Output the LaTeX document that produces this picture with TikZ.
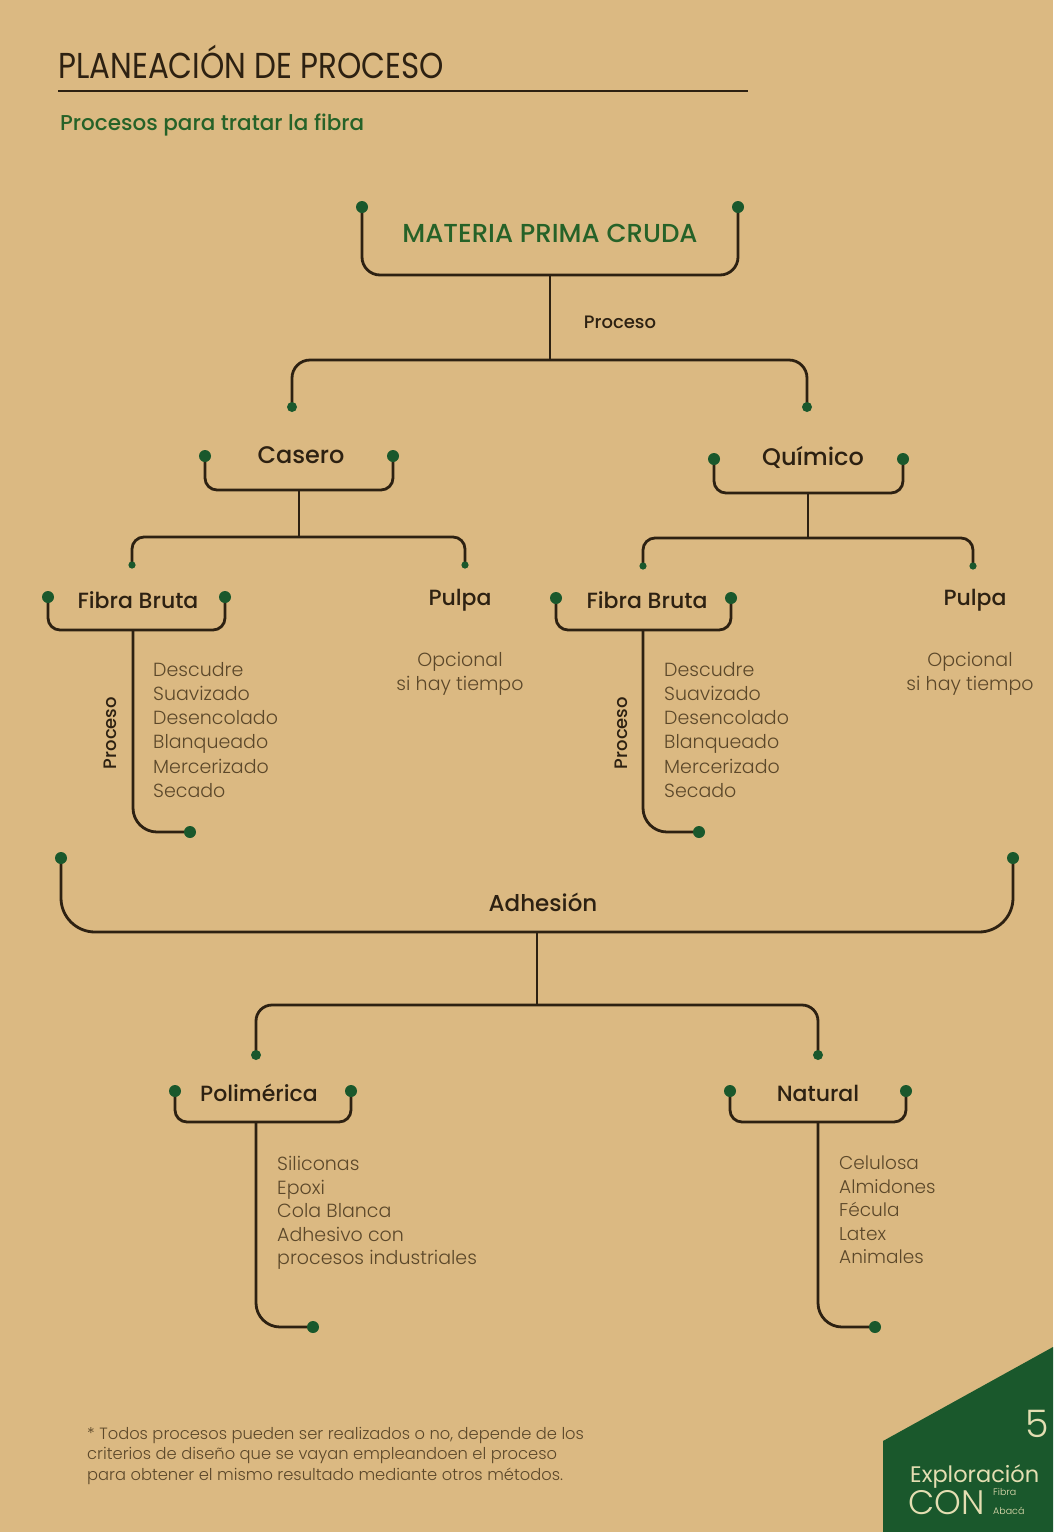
\documentclass[tikz,border=0pt]{standalone}
\usepackage{fontspec}
\setmainfont{Poppins}
\newfontfamily\titlefont[FakeStretch=0.86]{Poppins}
\newfontfamily\lightfont{Poppins Light}
\newfontfamily\medfont{Poppins Medium}
\usetikzlibrary{positioning}

\definecolor{kraft}{RGB}{219,185,130}
\definecolor{ink}{RGB}{45,33,18}
\definecolor{softink}{RGB}{92,72,42}
\definecolor{leaf}{RGB}{26,88,44}
\definecolor{leaftext}{RGB}{38,98,40}
\definecolor{cream}{RGB}{228,222,178}

\begin{document}
\begin{tikzpicture}[x=1pt, y=-1pt,
    line/.style={draw=ink, line width=2.8pt, rounded corners=14pt},
    head/.style={text=ink, inner sep=0pt, font=\medfont\fontsize{22}{26}\selectfont},
    item/.style={text=softink, inner sep=0pt, anchor=north west, align=left, font=\lightfont\fontsize{19}{24.2}\selectfont},
    note/.style={text=softink, inner sep=0pt, anchor=north, align=center, font=\lightfont\fontsize{19}{24}\selectfont},
    side/.style={text=ink, inner sep=0pt, rotate=90, font=\medfont\fontsize{18}{20}\selectfont}
]
% paper
\fill[kraft] (0,0) rectangle (1053,1532);
\useasboundingbox (0,0) rectangle (1053,1532);

% heading
\node[anchor=base west, inner sep=0pt, text=ink, font=\titlefont\fontsize{36}{40}\selectfont] (title) at (58,78) {PLANEACIÓN DE PROCESO};
\draw[ink, line width=1.6pt] (58,91) -- (748,91);
\node[anchor=base west, inner sep=0pt, text=leaftext, font=\medfont\fontsize{21.5}{24}\selectfont] (subtitle) at (60,130) {Procesos para tratar la fibra};

% materia prima
\node[inner sep=0pt, text=leaftext, font=\medfont\fontsize{26}{30}\selectfont] (materia) at (550,233) {MATERIA PRIMA CRUDA};
\coordinate (mpL) at (362,207);
\coordinate (mpR) at (738,207);
\coordinate (mpJ) at (550,275);
\coordinate (prJ) at (550,360);
\coordinate (caT) at (292,407);
\coordinate (quT) at (807,407);
\draw[line, rounded corners=18pt] (mpL) |- (mpJ) -| (mpR);
\draw[line] (mpJ) -- (prJ);
\draw[line, rounded corners=18pt] (caT) |- (prJ) -| (quT);
\node[head, font=\medfont\fontsize{18}{20}\selectfont] (proc) at (620,322) {Proceso};

% casero
\node[head, font=\medfont\fontsize{24}{28}\selectfont] (casero) at (301,455) {Casero};
\coordinate (caL) at (205,456);
\coordinate (caR) at (393,456);
\coordinate (caJ) at (299,490);
\coordinate (caK) at (299,537);
\coordinate (fbT) at (132,565);
\coordinate (puT) at (465,565);
\draw[line, rounded corners=12pt] (caL) |- (caJ) -| (caR);
\draw[line] (caJ) -- (caK);
\draw[line, rounded corners=12pt] (fbT) |- (caK) -| (puT);

% quimico
\node[head, font=\medfont\fontsize{24}{28}\selectfont] (quimico) at (813,457) {Químico};
\coordinate (quL) at (714,459);
\coordinate (quR) at (903,459);
\coordinate (quJ) at (808,493);
\coordinate (quK) at (808,538);
\coordinate (fbbT) at (643,566);
\coordinate (pubT) at (973,566);
\draw[line, rounded corners=12pt] (quL) |- (quJ) -| (quR);
\draw[line] (quJ) -- (quK);
\draw[line, rounded corners=12pt] (fbbT) |- (quK) -| (pubT);

% fibra bruta (casero)
\node[head] (fibra) at (138,600) {Fibra Bruta};
\coordinate (fbL) at (48,597);
\coordinate (fbR) at (225,597);
\coordinate (fbJ) at (133,630);
\coordinate (fbE) at (190,832);
\draw[line, rounded corners=12pt] (fbL) |- (fbJ) -| (fbR);
\draw[line, rounded corners=24pt] (fbJ) |- (fbE);
\node[side] (fbside) at (110,733) {Proceso};
\node[item] (fblist) at (153,662) {Descudre\\Suavizado\\Desencolado\\Blanqueado\\Mercerizado\\Secado};

\node[head] (pulpa) at (460,600) {Pulpa};
\node[note] (punote) at (460,652) {Opcional\\si hay tiempo};

% fibra bruta (quimico)
\node[head] (fibrab) at (647,600) {Fibra Bruta};
\coordinate (fbbL) at (556,598);
\coordinate (fbbR) at (731,598);
\coordinate (fbbJ) at (643,630);
\coordinate (fbbE) at (699,832);
\draw[line, rounded corners=12pt] (fbbL) |- (fbbJ) -| (fbbR);
\draw[line, rounded corners=24pt] (fbbJ) |- (fbbE);
\node[side] (fbbside) at (621,733) {Proceso};
\node[item] (fbblist) at (664,662) {Descudre\\Suavizado\\Desencolado\\Blanqueado\\Mercerizado\\Secado};

\node[head] (pulpab) at (975,600) {Pulpa};
\node[note] (pubnote) at (970,652) {Opcional\\si hay tiempo};

% adhesion
\node[head, font=\medfont\fontsize{23}{26}\selectfont] (adhesion) at (543,902) {Adhesión};
\coordinate (adL) at (61,858);
\coordinate (adR) at (1013,858);
\coordinate (adJ) at (537,932);
\coordinate (adK) at (537,1005);
\coordinate (poT) at (256,1055);
\coordinate (naT) at (818,1055);
\draw[line, rounded corners=34pt] (adL) |- (adJ) -| (adR);
\draw[line] (adJ) -- (adK);
\draw[line, rounded corners=16pt] (poT) |- (adK) -| (naT);

% polimerica
\node[head] (polim) at (259,1093) {Polimérica};
\coordinate (poL) at (175,1091);
\coordinate (poR) at (351,1091);
\coordinate (poJ) at (256,1122);
\coordinate (poE) at (313,1327);
\draw[line, rounded corners=12pt] (poL) |- (poJ) -| (poR);
\draw[line, rounded corners=24pt] (poJ) |- (poE);
\node[item, font=\lightfont\fontsize{19}{23.5}\selectfont] (polist) at (277,1156) {Siliconas\\Epoxi\\Cola Blanca\\Adhesivo con\\procesos industriales};

% natural
\node[head] (natural) at (818,1093) {Natural};
\coordinate (naL) at (730,1091);
\coordinate (naR) at (906,1091);
\coordinate (naJ) at (818,1122);
\coordinate (naE) at (875,1327);
\draw[line, rounded corners=12pt] (naL) |- (naJ) -| (naR);
\draw[line, rounded corners=24pt] (naJ) |- (naE);
\node[item, font=\lightfont\fontsize{18.5}{23.5}\selectfont] (nalist) at (839,1156) {Celulosa\\Almidones\\Fécula\\Latex\\Animales};

% end dots
\foreach \p in {mpL,mpR,caL,caR,quL,quR,fbL,fbR,fbE,fbbL,fbbR,fbbE,adL,adR,poL,poR,poE,naL,naR,naE}
  \fill[leaf] (\p) circle (6);
\foreach \p in {caT,quT,poT,naT}
  \fill[leaf] (\p) circle (5);
\foreach \p in {fbT,puT,fbbT,pubT}
  \fill[leaf] (\p) circle (3.6);

% footnote
\node[anchor=north west, inner sep=0pt, align=left, text=softink, font=\lightfont\fontsize{16.3}{20.5}\selectfont] (foot) at (87,1427) {* Todos procesos pueden ser realizados o no, depende de los\\criterios de diseño que se vayan empleandoen el proceso\\para obtener el mismo resultado mediante otros métodos.};

% page badge
\fill[leaf] (883,1441) -- (1053,1347) -- (1053,1532) -- (883,1532) -- cycle;
\node[anchor=east, inner sep=0pt, text=cream, font=\lightfont\fontsize{38}{40}\selectfont] (page) at (1049,1424) {5};
\node[anchor=base west, inner sep=0pt, text=cream, font=\fontsize{22.5}{24}\selectfont] (explo) at (910,1482) {Exploración};
\node[anchor=base west, inner sep=0pt, text=cream, font=\lightfont\fontsize{34}{36}\selectfont] (con) at (908,1514) {CON};
\node[anchor=base west, inner sep=0pt, text=cream, font=\lightfont\fontsize{9.5}{11}\selectfont] (fibr) at (993,1495) {Fibra};
\node[anchor=base west, inner sep=0pt, text=cream, font=\lightfont\fontsize{9.5}{11}\selectfont] (abaca) at (993,1514) {Abacá};
\end{tikzpicture}
\end{document}
